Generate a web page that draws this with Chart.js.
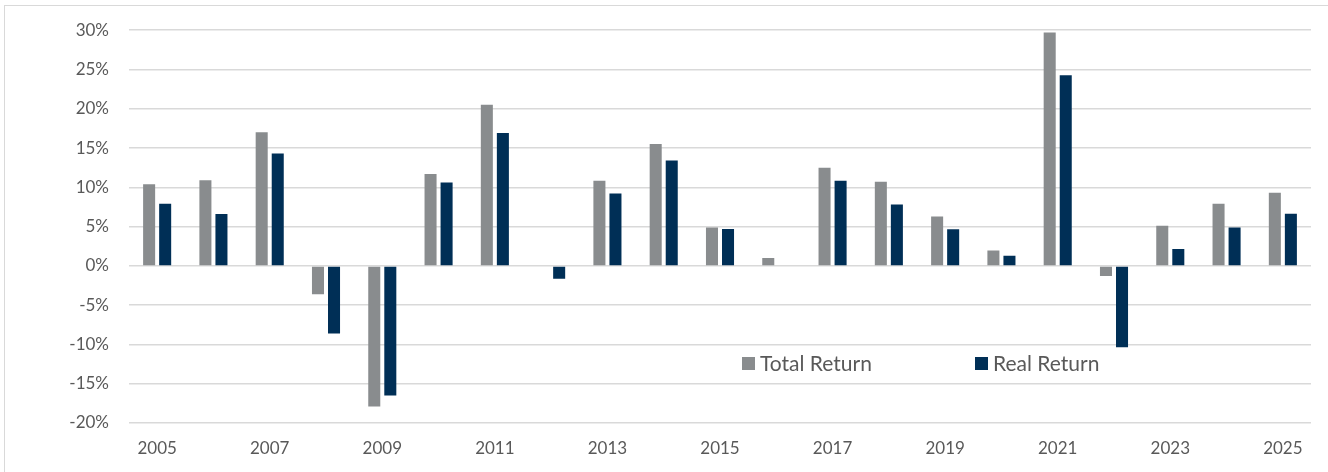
<!DOCTYPE html>
<html>
<head>
<meta charset="utf-8">
<script src="https://cdn.jsdelivr.net/npm/chart.js@4.4.1/dist/chart.umd.min.js"></script>
<style>
  html, body { margin: 0; padding: 0; background: #fff; }
  #wrap { position: relative; width: 1328px; height: 472px; overflow: hidden; }
  #frame { position: absolute; left: 4px; top: 5px; width: 1340px; height: 480px; border: 1px solid #D9D9D9; box-sizing: border-box; }
  canvas { position: absolute; left: 0; top: 0; }
</style>
</head>
<body>
<div id="wrap">
  <div id="frame"></div>
  <canvas id="c" width="1328" height="472"></canvas>
</div>
<script>
const years = ["2005","2006","2007","2008","2009","2010","2011","2012","2013","2014","2015","2016","2017","2018","2019","2020","2021","2022","2023","2024","2025"];
const totalReturn = [10.4, 10.9, 17.0, -3.6, -17.9, 11.7, 20.5, 0.0, 10.85, 15.5, 4.9, 1.0, 12.5, 10.7, 6.3, 1.95, 29.7, -1.3, 5.1, 7.9, 9.3];
const realReturn  = [7.9, 6.6, 14.3, -8.6, -16.5, 10.6, 16.9, -1.65, 9.2, 13.4, 4.7, 0.0, 10.85, 7.8, 4.65, 1.3, 24.25, -10.35, 2.15, 4.9, 6.65];
const yTicks = [-20, -15, -10, -5, 0, 5, 10, 15, 20, 25, 30];

const FONT = "Lato, 'Open Sans', sans-serif";
const TEXT = "#595959";

const legendPlugin = {
  id: 'insideLegend',
  afterDraw(chart) {
    const ctx = chart.ctx;
    const spots = [{x: 742, y: 363}, {x: 975, y: 363}];
    ctx.save();
    ctx.font = "21px " + FONT;
    ctx.textBaseline = "middle";
    chart.data.datasets.forEach((ds, i) => {
      const p = spots[i];
      ctx.fillStyle = ds.backgroundColor;
      ctx.fillRect(p.x, p.y - 6, 13, 13);
      ctx.fillStyle = TEXT;
      ctx.fillText(ds.label, p.x + 18, p.y + 1);
    });
    ctx.restore();
  }
};

new Chart(document.getElementById('c'), {
  type: 'bar',
  data: {
    labels: years,
    datasets: [
      { label: 'Total Return', data: totalReturn, backgroundColor: '#898C8E', borderWidth: 0,
        categoryPercentage: 0.57, barPercentage: 0.75 },
      { label: 'Real Return', data: realReturn, backgroundColor: '#002F56', borderWidth: 0,
        categoryPercentage: 0.57, barPercentage: 0.75 }
    ]
  },
  options: {
    responsive: false,
    animation: false,
    layout: { padding: { left: 0, right: 17, top: 30, bottom: 0 } },
    plugins: { legend: { display: false }, tooltip: { enabled: false } },
    scales: {
      x: {
        grid: { display: false, drawTicks: false },
        border: { display: false },
        ticks: {
          autoSkip: false, maxRotation: 0, padding: 15, color: TEXT,
          font: { family: FONT, size: 17 },
          callback: function(v, i) { return i % 2 === 0 ? years[i] : ''; }
        },
        afterFit(s) { s.height = 49; }
      },
      y: {
        min: -20, max: 30,
        grid: { color: '#D9D9D9', lineWidth: 1.5, drawTicks: false },
        border: { display: false },
        afterBuildTicks(s) { s.ticks = yTicks.map(v => ({ value: v })); },
        ticks: {
          padding: 20, color: TEXT,
          font: { family: FONT, size: 17 },
          callback: v => v + '%'
        },
        afterFit(s) { s.width = 129; }
      }
    }
  },
  plugins: [legendPlugin]
});
</script>
</body>
</html>
